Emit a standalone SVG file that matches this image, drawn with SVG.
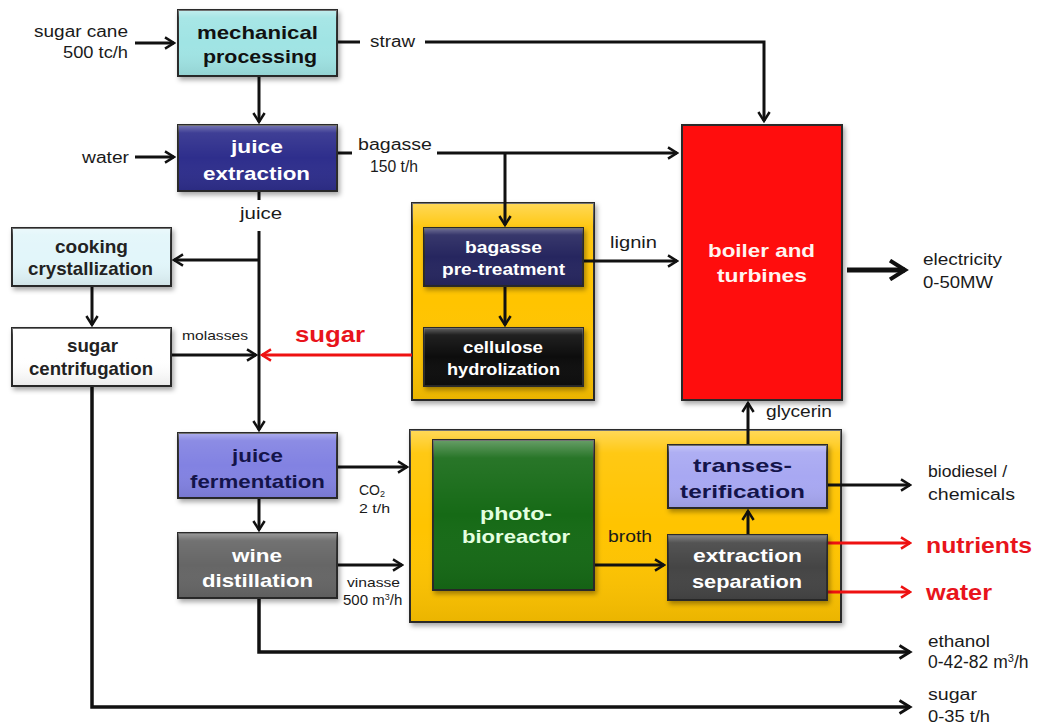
<svg xmlns="http://www.w3.org/2000/svg" width="1039" height="726" viewBox="0 0 1039 726">
<defs>
<style>
.box{stroke:#2a2a2a;stroke-width:2;filter:url(#sh)}
.gl{fill:url(#gloss);stroke:none}
.lb{font-family:"Liberation Sans",Arial,sans-serif;font-weight:bold;font-size:19px}
.sm{font-family:"Liberation Sans",Arial,sans-serif;font-size:16px;fill:#1a1a1a}
.xs{font-family:"Liberation Sans",Arial,sans-serif;font-size:13px;fill:#1a1a1a}
.rd{font-family:"Liberation Sans",Arial,sans-serif;font-weight:bold;font-size:22px;fill:#e8141c}
.w{fill:#ffffff}
.k{fill:#111111}
.c{fill:none;stroke:#111;stroke-width:3}
.r{fill:none;stroke:#ee1111;stroke-width:3}
</style>
<filter id="sh" x="-10%" y="-10%" width="125%" height="125%">
<feDropShadow dx="2" dy="3" stdDeviation="2.5" flood-color="#000" flood-opacity="0.35"/>
</filter>
<linearGradient id="gloss" x1="0" y1="0" x2="0" y2="1">
<stop offset="0" stop-color="#fff" stop-opacity="0.35"/>
<stop offset="0.12" stop-color="#fff" stop-opacity="0.08"/>
<stop offset="0.5" stop-color="#fff" stop-opacity="0"/>
<stop offset="1" stop-color="#000" stop-opacity="0.08"/>
</linearGradient>
<marker id="a" viewBox="0 0 12 12" refX="10" refY="6" markerWidth="4.5" markerHeight="4.5" orient="auto" markerUnits="strokeWidth">
<path d="M2,1 L10,6 L2,11" fill="none" stroke="#111" stroke-width="2.2"/>
</marker>
<marker id="ar" viewBox="0 0 12 12" refX="10" refY="6" markerWidth="4.5" markerHeight="4.5" orient="auto" markerUnits="strokeWidth">
<path d="M2,1 L10,6 L2,11" fill="none" stroke="#ee1111" stroke-width="2.2"/>
</marker>
</defs>
<rect width="1039" height="726" fill="#ffffff"/>

<g id="group-yellow1">
<rect class="box" x="412" y="203" width="182" height="197" fill="#ffc400"/>
<rect class="gl" x="412" y="203" width="182" height="197"/>
</g>
<g id="group-yellow2">
<rect class="box" x="410" y="430" width="431" height="192" fill="#ffc400"/>
<rect class="gl" x="410" y="430" width="431" height="192"/>
</g>

<g id="connectors">
<path class="c" d="M135,43 H174" marker-end="url(#a)"/>
<path class="c" d="M135,157 H174" marker-end="url(#a)"/>
<path class="c" d="M259,76 V122" marker-end="url(#a)"/>
<path class="c" d="M337,42 H360"/>
<path class="c" d="M425,42 H764 V121" marker-end="url(#a)"/>
<path class="c" d="M337,153 H352"/>
<path class="c" d="M437,153 H677" marker-end="url(#a)"/>
<path class="c" d="M505,153 V225" marker-end="url(#a)"/>
<path class="c" d="M583,261 H677" marker-end="url(#a)"/>
<path class="c" d="M505,286 V325" marker-end="url(#a)"/>
<path class="c" d="M259,191 V200"/>
<path class="c" d="M259,231 V430" marker-end="url(#a)"/>
<path class="c" d="M259,260 H174" marker-end="url(#a)"/>
<path class="c" d="M92,286 V325" marker-end="url(#a)"/>
<path class="c" d="M171,355 H256" marker-end="url(#a)"/>
<path class="r" d="M412,355 H262" marker-end="url(#ar)"/>
<path class="c" style="stroke-width:3.5" d="M92,386 V707 H910" marker-end="url(#a)"/>
<path class="c" d="M259,498 V530" marker-end="url(#a)"/>
<path class="c" d="M337,467 H407" marker-end="url(#a)"/>
<path class="c" d="M337,565 H402" marker-end="url(#a)"/>
<path class="c" style="stroke-width:3.5" d="M259,598 V652 H910" marker-end="url(#a)"/>
<path class="c" d="M595,565 H664" marker-end="url(#a)"/>
<path class="c" d="M748,535 V511" marker-end="url(#a)"/>
<path class="c" d="M748,445 V403" marker-end="url(#a)"/>
<path class="c" d="M827,485 H910" marker-end="url(#a)"/>
<path class="r" d="M827,543 H910" marker-end="url(#ar)"/>
<path class="r" d="M827,592 H910" marker-end="url(#ar)"/>
<path class="c" style="stroke-width:5" d="M847,270 H905" marker-end="url(#a)"/>
</g>

<g id="node-mechanical">
<rect class="box" x="178" y="10" width="159" height="66" fill="#a0e4e4"/>
<rect class="gl" x="178" y="10" width="159" height="66"/>
<text class="lb k" x="197" y="39" textLength="121" lengthAdjust="spacingAndGlyphs">mechanical</text>
<text class="lb k" x="203" y="63" textLength="114" lengthAdjust="spacingAndGlyphs">processing</text>
</g>
<g id="node-juice-extraction">
<rect class="box" x="178" y="125" width="159" height="66" fill="#2e2e8c"/>
<rect class="gl" x="178" y="125" width="159" height="66"/>
<text class="lb w" x="231" y="153" textLength="52" lengthAdjust="spacingAndGlyphs">juice</text>
<text class="lb w" x="203" y="180" textLength="107" lengthAdjust="spacingAndGlyphs">extraction</text>
</g>
<g id="node-cooking">
<rect class="box" x="12" y="228" width="159" height="58" fill="#e2f6fa"/>
<rect class="gl" x="12" y="228" width="159" height="58"/>
<text class="lb" fill="#222" x="55" y="253" textLength="73" lengthAdjust="spacingAndGlyphs">cooking</text>
<text class="lb" fill="#222" x="28" y="275" textLength="125" lengthAdjust="spacingAndGlyphs">crystallization</text>
</g>
<g id="node-centrifugation">
<rect class="box" x="12" y="328" width="159" height="58" fill="#ffffff"/>
<rect class="gl" x="12" y="328" width="159" height="58"/>
<text class="lb" fill="#222" x="67" y="352" textLength="51" lengthAdjust="spacingAndGlyphs">sugar</text>
<text class="lb" fill="#222" x="29" y="375" textLength="124" lengthAdjust="spacingAndGlyphs">centrifugation</text>
</g>
<g id="node-pretreatment">
<rect class="box" x="424" y="228" width="159" height="58" fill="#28285e"/>
<rect class="gl" x="424" y="228" width="159" height="58"/>
<text class="lb w" x="465" y="253" textLength="77" lengthAdjust="spacingAndGlyphs" style="font-size:17px">bagasse</text>
<text class="lb w" x="442" y="275" textLength="123" lengthAdjust="spacingAndGlyphs" style="font-size:17px">pre-treatment</text>
</g>
<g id="node-cellulose">
<rect class="box" x="424" y="328" width="159" height="58" fill="#0a0a0a"/>
<rect class="gl" x="424" y="328" width="159" height="58"/>
<text class="lb w" x="463" y="353" textLength="80" lengthAdjust="spacingAndGlyphs" style="font-size:17px">cellulose</text>
<text class="lb w" x="447" y="375" textLength="113" lengthAdjust="spacingAndGlyphs" style="font-size:17px">hydrolization</text>
</g>
<g id="node-boiler">
<rect class="box" x="682" y="125" width="160" height="275" fill="#ff0a0a"/>
<text class="lb" fill="#fff4f0" x="708" y="257" textLength="107" lengthAdjust="spacingAndGlyphs">boiler and</text>
<text class="lb" fill="#fff4f0" x="717" y="282" textLength="90" lengthAdjust="spacingAndGlyphs">turbines</text>
</g>
<g id="node-fermentation">
<rect class="box" x="178" y="433" width="159" height="65" fill="#8282e2"/>
<rect class="gl" x="178" y="433" width="159" height="65"/>
<text class="lb" fill="#14144a" x="232" y="462" textLength="51" lengthAdjust="spacingAndGlyphs">juice</text>
<text class="lb" fill="#14144a" x="190" y="488" textLength="135" lengthAdjust="spacingAndGlyphs">fermentation</text>
</g>
<g id="node-distillation">
<rect class="box" x="178" y="533" width="159" height="65" fill="#666666"/>
<rect class="gl" x="178" y="533" width="159" height="65"/>
<text class="lb w" x="232" y="562" textLength="50" lengthAdjust="spacingAndGlyphs">wine</text>
<text class="lb w" x="202" y="587" textLength="111" lengthAdjust="spacingAndGlyphs">distillation</text>
</g>
<g id="node-photobioreactor">
<rect class="box" x="433" y="440" width="161" height="150" fill="#136b13"/>
<rect class="gl" x="433" y="440" width="161" height="150"/>
<text class="lb" fill="#e4ffe0" x="480" y="520" textLength="72" lengthAdjust="spacingAndGlyphs">photo-</text>
<text class="lb" fill="#e4ffe0" x="462" y="543" textLength="108" lengthAdjust="spacingAndGlyphs">bioreactor</text>
</g>
<g id="node-transesterification">
<rect class="box" x="668" y="445" width="159" height="63" fill="#a8a8f2"/>
<rect class="gl" x="668" y="445" width="159" height="63"/>
<text class="lb" fill="#14144a" x="693" y="472" textLength="99" lengthAdjust="spacingAndGlyphs">transes-</text>
<text class="lb" fill="#14144a" x="680" y="498" textLength="125" lengthAdjust="spacingAndGlyphs">terification</text>
</g>
<g id="node-extraction">
<rect class="box" x="668" y="535" width="159" height="65" fill="#444444"/>
<rect class="gl" x="668" y="535" width="159" height="65"/>
<text class="lb w" x="693" y="562" textLength="109" lengthAdjust="spacingAndGlyphs">extraction</text>
<text class="lb w" x="692" y="588" textLength="110" lengthAdjust="spacingAndGlyphs">separation</text>
</g>

<g id="labels">
<text class="sm" x="34" y="37" textLength="94" lengthAdjust="spacingAndGlyphs">sugar cane</text>
<text class="sm" x="63" y="58" textLength="65" lengthAdjust="spacingAndGlyphs">500 tc/h</text>
<text class="sm" x="82" y="163" textLength="47" lengthAdjust="spacingAndGlyphs">water</text>
<text class="sm" x="370" y="47" textLength="45" lengthAdjust="spacingAndGlyphs">straw</text>
<text class="sm" x="358" y="150" textLength="74" lengthAdjust="spacingAndGlyphs">bagasse</text>
<text class="sm" x="370" y="172" textLength="48" lengthAdjust="spacingAndGlyphs">150 t/h</text>
<text class="sm" x="240" y="219" textLength="42" lengthAdjust="spacingAndGlyphs">juice</text>
<text class="xs" x="182" y="340" textLength="66" lengthAdjust="spacingAndGlyphs">molasses</text>
<text class="rd" x="295" y="342" textLength="70" lengthAdjust="spacingAndGlyphs">sugar</text>
<text class="sm" x="610" y="248" textLength="47" lengthAdjust="spacingAndGlyphs">lignin</text>
<text class="sm" x="766" y="417" textLength="66" lengthAdjust="spacingAndGlyphs">glycerin</text>
<text class="sm" x="923" y="265" textLength="79" lengthAdjust="spacingAndGlyphs">electricity</text>
<text class="sm" x="923" y="288" textLength="70" lengthAdjust="spacingAndGlyphs">0-50MW</text>
<text class="xs" x="359" y="495" style="font-size:14px">CO<tspan font-size="9" dy="2">2</tspan></text>
<text class="xs" x="359" y="513" textLength="31" lengthAdjust="spacingAndGlyphs">2 t/h</text>
<text class="xs" x="347" y="587" textLength="53" lengthAdjust="spacingAndGlyphs">vinasse</text>
<text class="xs" x="343" y="605" style="font-size:15px">500 m<tspan font-size="9" dy="-5">3</tspan><tspan dy="5">/h</tspan></text>
<text class="sm" x="608" y="542" textLength="44" lengthAdjust="spacingAndGlyphs">broth</text>
<text class="sm" x="928" y="477" textLength="79" lengthAdjust="spacingAndGlyphs">biodiesel /</text>
<text class="sm" x="928" y="500" textLength="87" lengthAdjust="spacingAndGlyphs">chemicals</text>
<text class="rd" x="926" y="553" textLength="106" lengthAdjust="spacingAndGlyphs">nutrients</text>
<text class="rd" x="926" y="600" textLength="66" lengthAdjust="spacingAndGlyphs">water</text>
<text class="sm" x="928" y="647" textLength="62" lengthAdjust="spacingAndGlyphs">ethanol</text>
<text class="sm" x="928" y="668" style="font-size:17.5px">0-42-82 m<tspan font-size="11" dy="-6">3</tspan><tspan dy="6">/h</tspan></text>
<text class="sm" x="928" y="700" textLength="49" lengthAdjust="spacingAndGlyphs">sugar</text>
<text class="sm" x="928" y="722" textLength="62" lengthAdjust="spacingAndGlyphs">0-35 t/h</text>
</g>
</svg>
